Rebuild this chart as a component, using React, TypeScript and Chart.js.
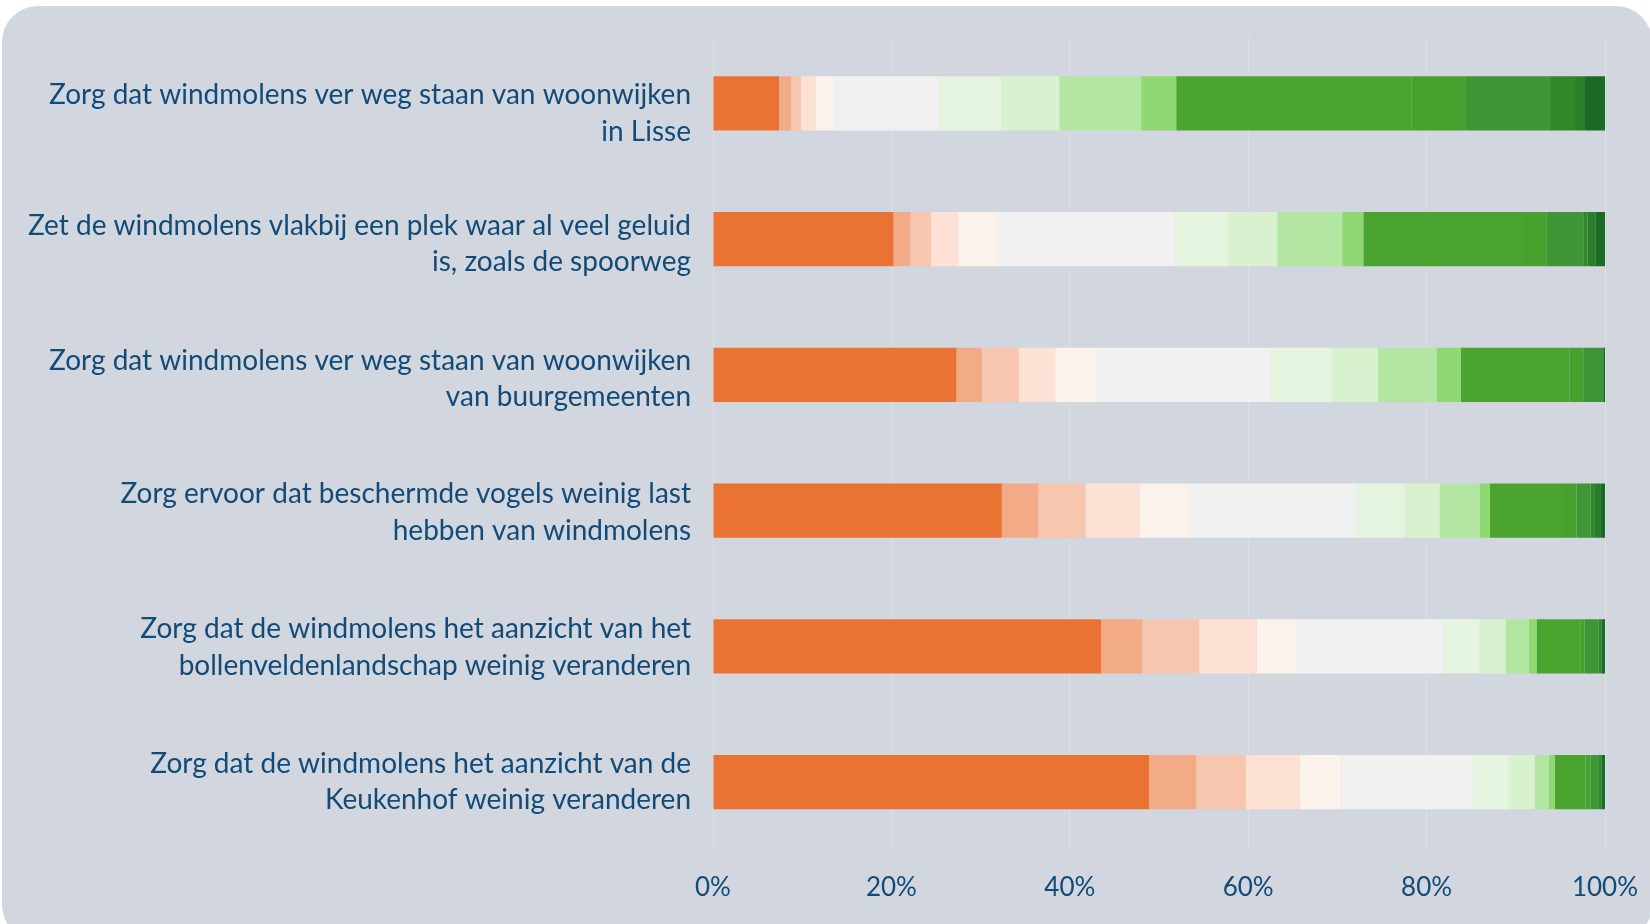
import React, { useEffect, useRef } from "react";
import { Chart, registerables } from "chart.js";

Chart.register(...registerables);

const categories: string[][] = [
  ["Zorg dat windmolens ver weg staan van woonwijken", "in Lisse"],
  ["Zet de windmolens vlakbij een plek waar al veel geluid", "is, zoals de spoorweg"],
  ["Zorg dat windmolens ver weg staan van woonwijken", "van buurgemeenten"],
  ["Zorg ervoor dat beschermde vogels weinig last", "hebben van windmolens"],
  ["Zorg dat de windmolens het aanzicht van het", "bollenveldenlandschap weinig veranderen"],
  ["Zorg dat de windmolens het aanzicht van de", "Keukenhof weinig veranderen"],
];

const xTicks = [0, 20, 40, 60, 80, 100];

const orange1 = [7.4, 20.23, 27.29, 32.38, 43.52, 48.88];
const orange2 = [1.36, 1.9, 2.85, 4.08, 4.61, 5.29];
const orange3 = [1.08, 2.31, 4.14, 5.29, 6.38, 5.57];
const orange4 = [1.7, 3.05, 4.08, 6.04, 6.45, 6.04];
const orange5 = [2.04, 4.35, 4.68, 5.57, 4.55, 4.69];
const neutral = [11.81, 19.89, 19.42, 18.81, 16.36, 14.8];
const lightGreen1 = [6.93, 5.98, 6.92, 5.43, 4.08, 3.94];
const lightGreen2 = [6.51, 5.56, 5.16, 3.87, 2.92, 2.91];
const lightGreen3 = [9.17, 7.27, 6.59, 4.48, 2.58, 1.57];
const lightGreen4 = [3.93, 2.37, 2.71, 1.15, 0.88, 0.68];
const green1 = [26.41, 17.79, 12.16, 8.08, 4.89, 3.46];
const green2 = [5.98, 2.78, 1.56, 1.63, 0.47, 0.54];
const green3 = [9.52, 4.08, 2.24, 1.56, 1.56, 0.95];
const green4 = [2.8, 0.5, 0, 0.5, 0.34, 0.27];
const green5 = [1.12, 0.85, 0, 0.59, 0, 0];
const green6 = [2.24, 1.09, 0.2, 0.54, 0.41, 0.41];

const seriesValues = [
  orange1, orange2, orange3, orange4, orange5, neutral,
  lightGreen1, lightGreen2, lightGreen3, lightGreen4,
  green1, green2, green3, green4, green5, green6,
];
const seriesColors = [
  "#ea7334", "#f2ab86", "#f7c6ae", "#fce1d4", "#fcf2ec", "#f1f1f1",
  "#e6f5e0", "#d8f1cf", "#b4e6a3", "#8fd873",
  "#4ba42f", "#47a12e", "#3e9636", "#32872b", "#2a7d29", "#1b6b26",
];

const TEXT = "#124a78";
const FONT = "Lato, 'Noto Sans', sans-serif";
// small vertical nudges (px) of the category labels, styling only
const LABEL_NUDGE = [10, 5, 4, 2, 1, 0];

const nudgePlugin = {
  id: "nudgeLabels",
  beforeDraw(chart: any) {
    const s: any = chart.scales.y;
    if (!s || typeof s.getLabelItems !== "function") return;
    const items: any = s.getLabelItems(chart.chartArea);
    if (!items || items.__nudged) return;
    items.forEach((it: any, i: number) => {
      if (it && it.options && it.options.translation) {
        it.options.translation[1] += LABEL_NUDGE[i] || 0;
      }
    });
    items.__nudged = true;
  },
};

export default function App() {
  const ref = useRef<HTMLCanvasElement | null>(null);
  useEffect(() => {
    if (!ref.current) return;
    const chart = new Chart(ref.current, {
      type: "bar",
      data: {
        labels: categories as any,
        datasets: seriesValues.map((vals, i) => ({
          label: "s" + i,
          data: vals,
          backgroundColor: seriesColors[i],
          borderWidth: 0,
          barPercentage: 0.4,
          categoryPercentage: 1,
        })),
      },
      plugins: [nudgePlugin],
      options: {
        indexAxis: "y",
        responsive: false,
        maintainAspectRatio: false,
        animation: false,
        layout: { padding: { top: 35.6, right: 45, bottom: 20, left: 0 } },
        plugins: { legend: { display: false }, tooltip: { enabled: false } },
        scales: {
          x: {
            stacked: true,
            min: 0,
            max: 100,
            afterBuildTicks: (scale: any) => {
              scale.ticks = xTicks.map((v) => ({ value: v }));
            },
            afterFit: (scale: any) => {
              scale.paddingLeft = 0;
              scale.paddingRight = 0;
              scale.height = 54;
            },
            ticks: {
              callback: (v: any) => v + "%",
              color: TEXT,
              font: { family: FONT, size: 26, lineHeight: 1.2 },
              padding: 22,
              maxRotation: 0,
            },
            grid: { color: "#dcdee2", lineWidth: 1, drawTicks: false },
            border: { display: false },
          },
          y: {
            stacked: true,
            grid: { display: false, drawTicks: false },
            border: { display: false },
            ticks: {
              color: TEXT,
              font: { family: FONT, size: 28, lineHeight: 1.3 },
              padding: 22,
              crossAlign: "near",
              autoSkip: false,
            },
            afterFit: (scale: any) => {
              scale.width = 713;
              scale.paddingTop = 0;
              scale.paddingBottom = 0;
            },
          },
        },
      },
    } as any);
    return () => chart.destroy();
  }, []);

  return (
    <div
      style={{
        position: "absolute",
        left: 0,
        top: 0,
        width: 1650,
        height: 924,
        overflow: "hidden",
        background: "#ffffff",
      }}
    >
      <div
        style={{
          position: "absolute",
          left: 2,
          top: 6,
          width: 1650,
          height: 935,
          borderRadius: 36,
          background: "#d2d7df",
        }}
      />
      <canvas
        ref={ref}
        width={1650}
        height={924}
        style={{ position: "absolute", left: 0, top: 0, width: 1650, height: 924 }}
      />
    </div>
  );
}
